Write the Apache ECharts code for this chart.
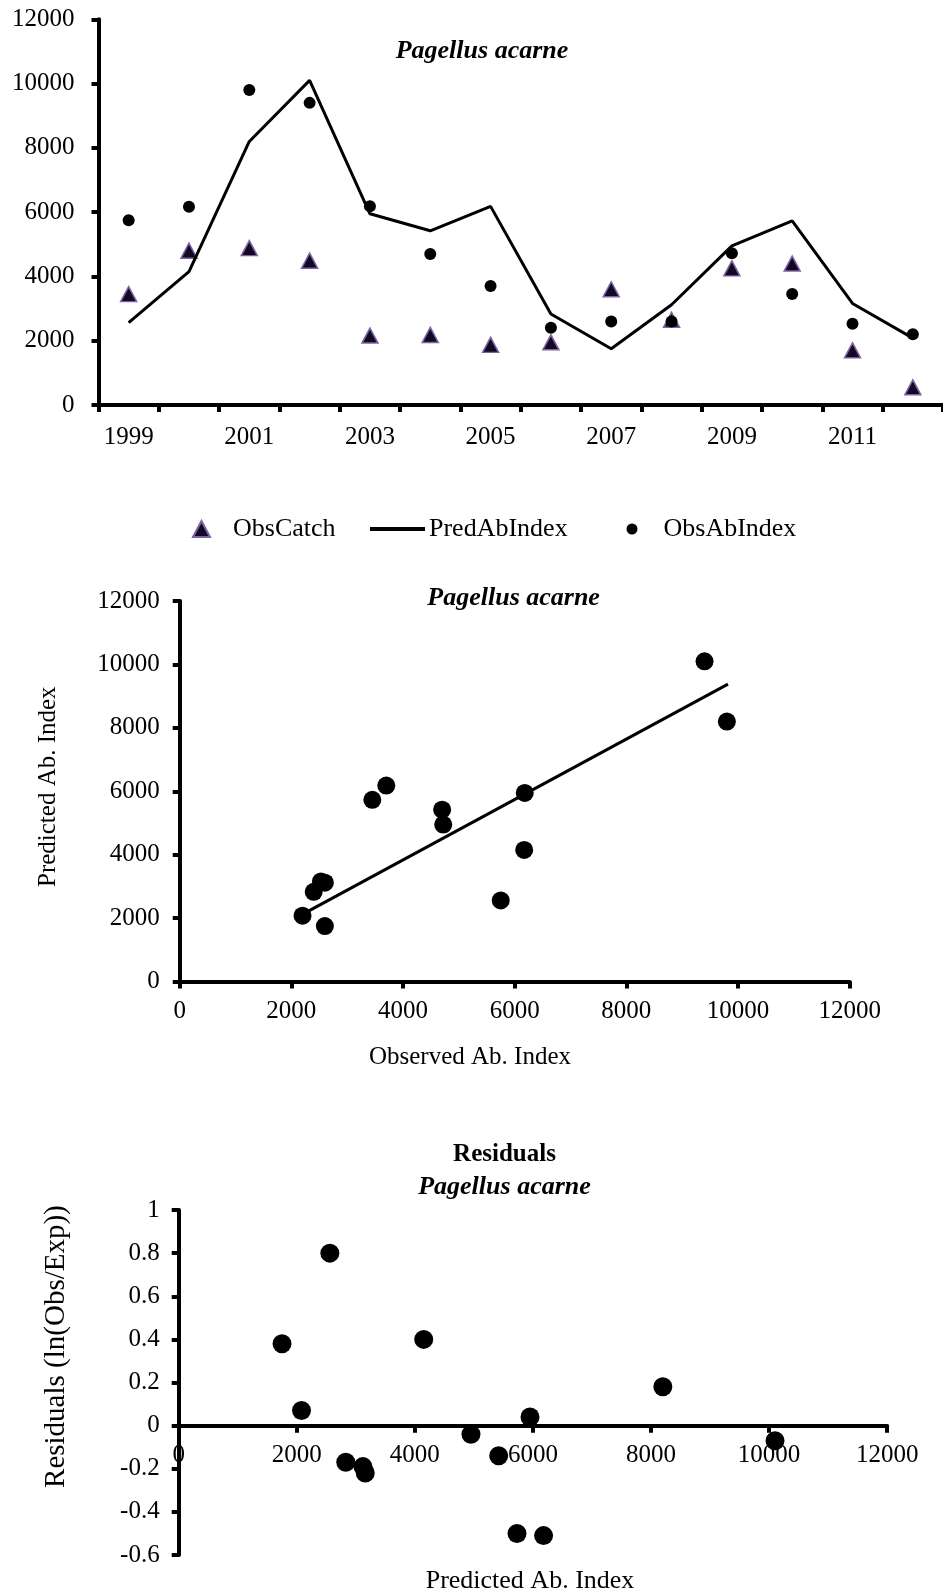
<!DOCTYPE html>
<html>
<head>
<meta charset="utf-8">
<script src="https://cdn.jsdelivr.net/npm/echarts@6/dist/echarts.min.js"></script>
<style>
  html, body { margin: 0; padding: 0; background: #fff; }
  #chart { width: 943px; height: 1591px; }
</style>
</head>
<body>
<div id="chart"></div>
<script>
// ---- data ----
const years = ['1999','2000','2001','2002','2003','2004','2005','2006','2007','2008','2009','2010','2011','2012'];
const obsCatch    = [3450, 4800, 4880, 4490, 2160, 2180, 1870, 1950, 3600, 2650, 4250, 4400, 1700, 550];
const predAbIndex = [2560, 4150, 8200, 10100, 5950, 5420, 6180, 2830, 1750, 3120, 4950, 5730, 3160, 2080];
const obsAbIndex  = [5750, 6170, 9800, 9400, 6180, 4700, 3700, 2400, 2600, 2600, 4720, 3450, 2530, 2200];
const residuals   = [0.80, 0.40, 0.18, -0.07, 0.04, -0.14, -0.51, -0.17, 0.38, -0.19, -0.04, -0.50, -0.22, 0.07];
const trendObs  = [2280, 9820];
const trendPred = [2200, 9380];
const valueTicks = { min: 0, max: 12000, interval: 2000 };
const residTicks = { min: -0.6, max: 1, interval: 0.2 };

// ---- styling ----
const FONT = '"Liberation Serif", "Times New Roman", serif';
const LW = 4;
const axisLine = { show: true, onZero: false, lineStyle: { color: '#000', width: LW } };
const axisTick = { show: true, inside: false, length: 7, lineStyle: { color: '#000', width: LW } };
function fmt(v) { return String(Math.round(v * 100) / 100); }
function label(margin, size) {
  return { color: '#000', fontFamily: FONT, fontSize: size || 25, margin: margin, formatter: fmt };
}

const scatterPairs = obsAbIndex.map((o, i) => [o, predAbIndex[i]]);
const residPairs = predAbIndex.map((p, i) => [p, residuals[i]]);
const trendPairs = trendObs.map((o, i) => [o, trendPred[i]]);

// grid 3 geometry; the x axis sits on the zero line of the residual axis
const g3 = { left: 178.7, top: 1210, width: 708.5, height: 345 };
const zeroOffset = -g3.height * (0 - residTicks.min) / (residTicks.max - residTicks.min);

function txt(text, x, y, size, opts) {
  opts = opts || {};
  return {
    type: 'text', x: x, y: y, rotation: opts.rot || 0, z: 10,
    style: {
      text: text, fill: '#000', fontFamily: FONT, fontSize: size,
      fontWeight: opts.bold ? 'bold' : 'normal',
      fontStyle: opts.italic ? 'italic' : 'normal',
      align: 'center', verticalAlign: 'middle',
      textAlign: 'center', textVerticalAlign: 'middle'
    }
  };
}

const chart = echarts.init(document.getElementById('chart'), null, { renderer: 'canvas' });
chart.setOption({
  animation: false,
  backgroundColor: '#fff',
  grid: [
    { left: 98.5, top: 19.3, width: 845, height: 385.7 },
    { left: 179.7, top: 601, width: 670, height: 380.6 },
    g3
  ],
  xAxis: [
    { gridIndex: 0, type: 'category', data: years, boundaryGap: true,
      axisLine: axisLine, axisTick: Object.assign({ interval: 0 }, axisTick),
      axisLabel: { interval: 1, color: '#000', fontFamily: FONT, fontSize: 25, margin: 20 },
      splitLine: { show: false } },
    { gridIndex: 1, type: 'value', min: valueTicks.min, max: valueTicks.max, interval: valueTicks.interval,
      axisLine: axisLine, axisTick: axisTick, axisLabel: label(17), splitLine: { show: false } },
    { gridIndex: 2, type: 'value', min: valueTicks.min, max: valueTicks.max, interval: valueTicks.interval,
      position: 'bottom', offset: zeroOffset,
      axisLine: axisLine, axisTick: axisTick, axisLabel: label(17), splitLine: { show: false } }
  ],
  yAxis: [
    { gridIndex: 0, type: 'value', min: valueTicks.min, max: valueTicks.max, interval: valueTicks.interval,
      axisLine: axisLine, axisTick: axisTick, axisLabel: label(24), splitLine: { show: false } },
    { gridIndex: 1, type: 'value', min: valueTicks.min, max: valueTicks.max, interval: valueTicks.interval,
      axisLine: axisLine, axisTick: axisTick, axisLabel: label(20), splitLine: { show: false } },
    { gridIndex: 2, type: 'value', min: residTicks.min, max: residTicks.max, interval: residTicks.interval,
      axisLine: axisLine, axisTick: axisTick, axisLabel: label(19), splitLine: { show: false } }
  ],
  legend: [
    { data: [{ name: 'ObsCatch', icon: 'triangle' }], left: 192, top: 516, padding: 0,
      itemWidth: 17, itemHeight: 16, selectedMode: false,
      textStyle: { color: '#000', fontFamily: FONT, fontSize: 26, padding: [0, 0, 0, 18] } },
    { data: [{ name: 'PredAbIndex', icon: 'rect' }], left: 370, top: 516, padding: 0,
      itemWidth: 55, itemHeight: 4, selectedMode: false,
      textStyle: { color: '#000', fontFamily: FONT, fontSize: 26, padding: [0, 0, 0, -1] } },
    { data: [{ name: 'ObsAbIndex', icon: 'circle' }], left: 626.5, top: 516, padding: 0,
      itemWidth: 11, itemHeight: 11, selectedMode: false,
      textStyle: { color: '#000', fontFamily: FONT, fontSize: 26, padding: [0, 0, 0, 21] } }
  ],
  series: [
    { name: 'ObsCatch', type: 'scatter', xAxisIndex: 0, yAxisIndex: 0, data: obsCatch,
      symbol: 'triangle', symbolSize: [16, 15],
      itemStyle: { color: '#120a22', borderColor: '#7d62a6', borderWidth: 1.5, opacity: 1 } },
    { name: 'PredAbIndex', type: 'line', xAxisIndex: 0, yAxisIndex: 0, data: predAbIndex,
      symbol: 'none', showSymbol: false, lineStyle: { color: '#000', width: 3 },
      itemStyle: { color: '#000' } },
    { name: 'ObsAbIndex', type: 'scatter', xAxisIndex: 0, yAxisIndex: 0, data: obsAbIndex,
      symbol: 'circle', symbolSize: 12, itemStyle: { color: '#000', opacity: 1 } },

    { name: 'ObsVsPred', type: 'scatter', xAxisIndex: 1, yAxisIndex: 1, data: scatterPairs,
      symbol: 'circle', symbolSize: 18, itemStyle: { color: '#000', opacity: 1 } },
    { name: 'Trend', type: 'line', xAxisIndex: 1, yAxisIndex: 1, data: trendPairs,
      symbol: 'none', lineStyle: { color: '#000', width: 3 } },

    { name: 'Residuals', type: 'scatter', xAxisIndex: 2, yAxisIndex: 2, data: residPairs,
      symbol: 'circle', symbolSize: 19, itemStyle: { color: '#000', opacity: 1 } }
  ],
  graphic: [
    txt('Pagellus acarne', 482, 51, 26, { bold: true, italic: true }),
    txt('Pagellus acarne', 513.6, 598, 26, { bold: true, italic: true }),
    txt('Residuals', 504.5, 1155, 25, { bold: true }),
    txt('Pagellus acarne', 504.5, 1187, 26, { bold: true, italic: true }),
    txt('Observed Ab. Index', 470, 1057, 25),
    txt('Predicted Ab. Index', 48.7, 786.7, 25, { rot: Math.PI / 2 }),
    txt('Residuals (ln(Obs/Exp))', 56.8, 1346.6, 29, { rot: Math.PI / 2 }),
    txt('Predicted Ab. Index', 530, 1581, 26)
  ]
});
</script>
</body>
</html>
